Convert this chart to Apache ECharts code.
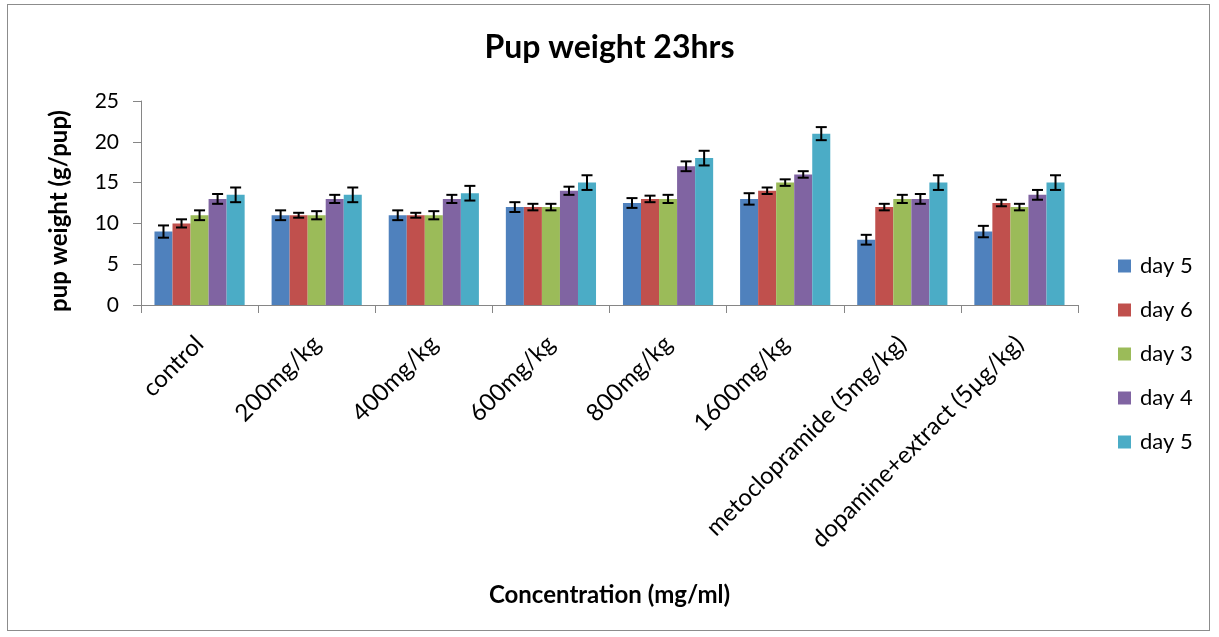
<!DOCTYPE html>
<html><head><meta charset="utf-8">
<script src="https://cdn.jsdelivr.net/npm/echarts@6/dist/echarts.min.js"></script>
<style>
html,body{margin:0;padding:0;background:#fff;}
#frame{position:absolute;left:7px;top:4px;width:1203px;height:627px;border:1px solid #8c8c8c;box-sizing:border-box;}
#c{position:absolute;left:0;top:0;width:1219px;height:637px;}
</style></head>
<body><div id="frame"></div><div id="c"></div>
<script>
const categories = ['control','200mg/kg','400mg/kg','600mg/kg','800mg/kg','1600mg/kg','metoclopramide (5mg/kg)','dopamine+extract (5µg/kg)'];
const seriesNames = ['day 5','day 6','day 3','day 4','day 5 '];
const day5a = [9, 11, 11, 12, 12.5, 13, 8, 9];
const day6  = [10, 11, 11, 12, 13, 14, 12, 12.5];
const day3  = [11, 11, 11, 12, 13, 15, 13, 12];
const day4  = [13, 13, 13, 14, 17, 16, 13, 13.5];
const day5b = [13.5, 13.5, 13.7, 15, 18, 21, 15, 15];
const err5a = [0.75, 0.6, 0.6, 0.6, 0.6, 0.7, 0.6, 0.7];
const err6  = [0.5, 0.3, 0.3, 0.4, 0.4, 0.4, 0.4, 0.4];
const err3  = [0.6, 0.5, 0.5, 0.4, 0.5, 0.4, 0.5, 0.4];
const err4  = [0.6, 0.5, 0.5, 0.5, 0.6, 0.4, 0.6, 0.6];
const err5b = [0.9, 0.9, 0.9, 0.9, 0.9, 0.8, 0.9, 0.9];
const yTicks = [0,5,10,15,20,25];
const colors = ['#4F81BD','#C0504D','#9BBB59','#8064A2','#4BACC6'];

const values = [day5a, day6, day3, day4, day5b];
const errs = [err5a, err6, err3, err4, err5b];
const gapRatio = 0.23;
const FONT = 'Lato';

const chart = echarts.init(document.getElementById('c'));
const series = values.map((v,i)=>({
  name: seriesNames[i], type:'bar', data:v, barGap:'0%', barCategoryGap:'23%',
  itemStyle:{color:colors[i]}
}));
const errData = [];
values.forEach((v,i)=>v.forEach((val,j)=>errData.push([j,val,errs[i][j],i])));
series.push({
  type:'custom', name:'err', silent:true, legendHoverLink:false,
  data: errData, z:10,
  encode:{x:0,y:1},
  renderItem:function(params, api){
    const cat = api.value(0), val = api.value(1), e = api.value(2), si = api.value(3);
    const band = api.size([1,0])[0];
    const bw = band*(1-gapRatio)/5;
    const c = api.coord([cat,val]);
    const x = c[0] + (si-2)*bw;
    const top = api.coord([cat,val+e])[1];
    const bot = api.coord([cat,val-e])[1];
    const hw = 5.5;
    const st = {stroke:'#000', lineWidth:2};
    return {type:'group', children:[
      {type:'line', shape:{x1:x,y1:top,x2:x,y2:bot}, style:st},
      {type:'line', shape:{x1:x-hw,y1:top,x2:x+hw,y2:top}, style:st},
      {type:'line', shape:{x1:x-hw,y1:bot,x2:x+hw,y2:bot}, style:st}
    ]};
  }
});

chart.setOption({
  animation:false,
  title:{text:'Pup weight 23hrs', left:'center', top:27, textStyle:{fontFamily:FONT, fontSize:32, fontWeight:'bold', color:'#000'}},
  legend:{
    orient:'vertical', left:1113, top:250, itemGap:22, itemWidth:13, itemHeight:13, icon:'rect',
    data: seriesNames.map((n,i)=>({name:n, itemStyle:{color:colors[i]}})),
    textStyle:{fontFamily:FONT, fontSize:22, color:'#000', padding:[0,0,0,4]}
  },
  grid:{left:141, right:141, top:101, bottom:332, containLabel:false},
  xAxis:{
    type:'category', data:categories,
    name:'Concentration (mg/ml)', nameLocation:'middle', nameGap:278,
    nameTextStyle:{fontFamily:FONT, fontSize:24, fontWeight:'bold', color:'#000'},
    axisLine:{lineStyle:{color:'#868686'}},
    axisTick:{show:true, alignWithLabel:false, length:8, lineStyle:{color:'#868686'}},
    axisLabel:{rotate:45, fontFamily:FONT, fontSize:24, color:'#000', margin:35, interval:0}
  },
  yAxis:{
    type:'value', min:0, max:25, interval:5,
    name:'pup weight (g/pup)', nameLocation:'middle', nameGap:70, nameRotate:90,
    nameTextStyle:{fontFamily:FONT, fontSize:24, fontWeight:'bold', color:'#000', padding:[0,16,0,0]},
    axisLine:{show:true, lineStyle:{color:'#868686'}},
    axisTick:{show:true, length:8, lineStyle:{color:'#868686'}},
    splitLine:{show:false},
    axisLabel:{fontFamily:FONT, fontSize:21, color:'#000', margin:22,
      formatter:function(v){return yTicks.indexOf(v)>=0? String(v):'';}}
  },
  series: series
});
</script></body></html>
